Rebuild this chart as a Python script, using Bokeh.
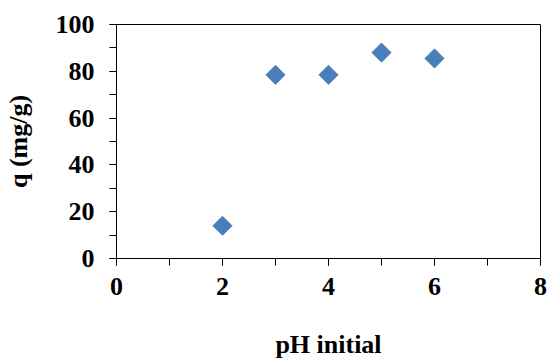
import numpy as np
from bokeh.plotting import figure
from bokeh.models import Range1d, SingleIntervalTicker, ColumnDataSource
from bokeh.embed import file_html
from bokeh.resources import INLINE

ph_initial = [2, 3, 4, 5, 6]
q_mg_g = [14, 78.5, 78.5, 88, 85.5]

x_label = "pH initial"
y_label = "q (mg/g)"

src = ColumnDataSource(dict(x=ph_initial, y=q_mg_g))

p = figure(width=547, height=358, output_backend="svg", toolbar_location=None,
           x_range=Range1d(0, 8), y_range=Range1d(0, 100))
p.frame_width = 424
p.frame_height = 234
p.min_border_left = 116
p.min_border_right = 7
p.min_border_top = 24
p.min_border_bottom = 10
p.background_fill_color = "white"
p.border_fill_color = "white"
p.outline_line_color = "black"
p.outline_line_width = 1
p.xgrid.visible = False
p.ygrid.visible = False

p.scatter("x", "y", source=src, marker="square", size=13.5, angle=np.pi / 4,
          fill_color="#4A7EBB", line_color="#4A7EBB")

font = "'Liberation Serif', serif"
for ax in (p.xaxis[0], p.yaxis[0]):
    ax.axis_line_color = "black"
    ax.major_tick_line_color = "black"
    ax.minor_tick_line_color = "black"
    ax.major_tick_in = 0
    ax.minor_tick_in = 0
    ax.major_tick_out = 7
    ax.minor_tick_out = 7
    ax.major_label_text_font = font
    ax.major_label_text_font_style = "bold"
    ax.major_label_text_font_size = "26px"
    ax.major_label_text_color = "black"
    ax.axis_label_text_font = font
    ax.axis_label_text_font_style = "bold"
    ax.axis_label_text_font_size = "26px"
    ax.axis_label_text_color = "black"

p.xaxis[0].ticker = SingleIntervalTicker(interval=2, num_minor_ticks=2)
p.yaxis[0].ticker = SingleIntervalTicker(interval=20, num_minor_ticks=2)
p.xaxis[0].axis_label = x_label
p.yaxis[0].axis_label = y_label
p.xaxis[0].major_label_standoff = 12
p.yaxis[0].major_label_standoff = 15
p.xaxis[0].axis_label_standoff = 32
p.yaxis[0].axis_label_standoff = 20

open("out.html", "w").write(file_html(p, INLINE))
